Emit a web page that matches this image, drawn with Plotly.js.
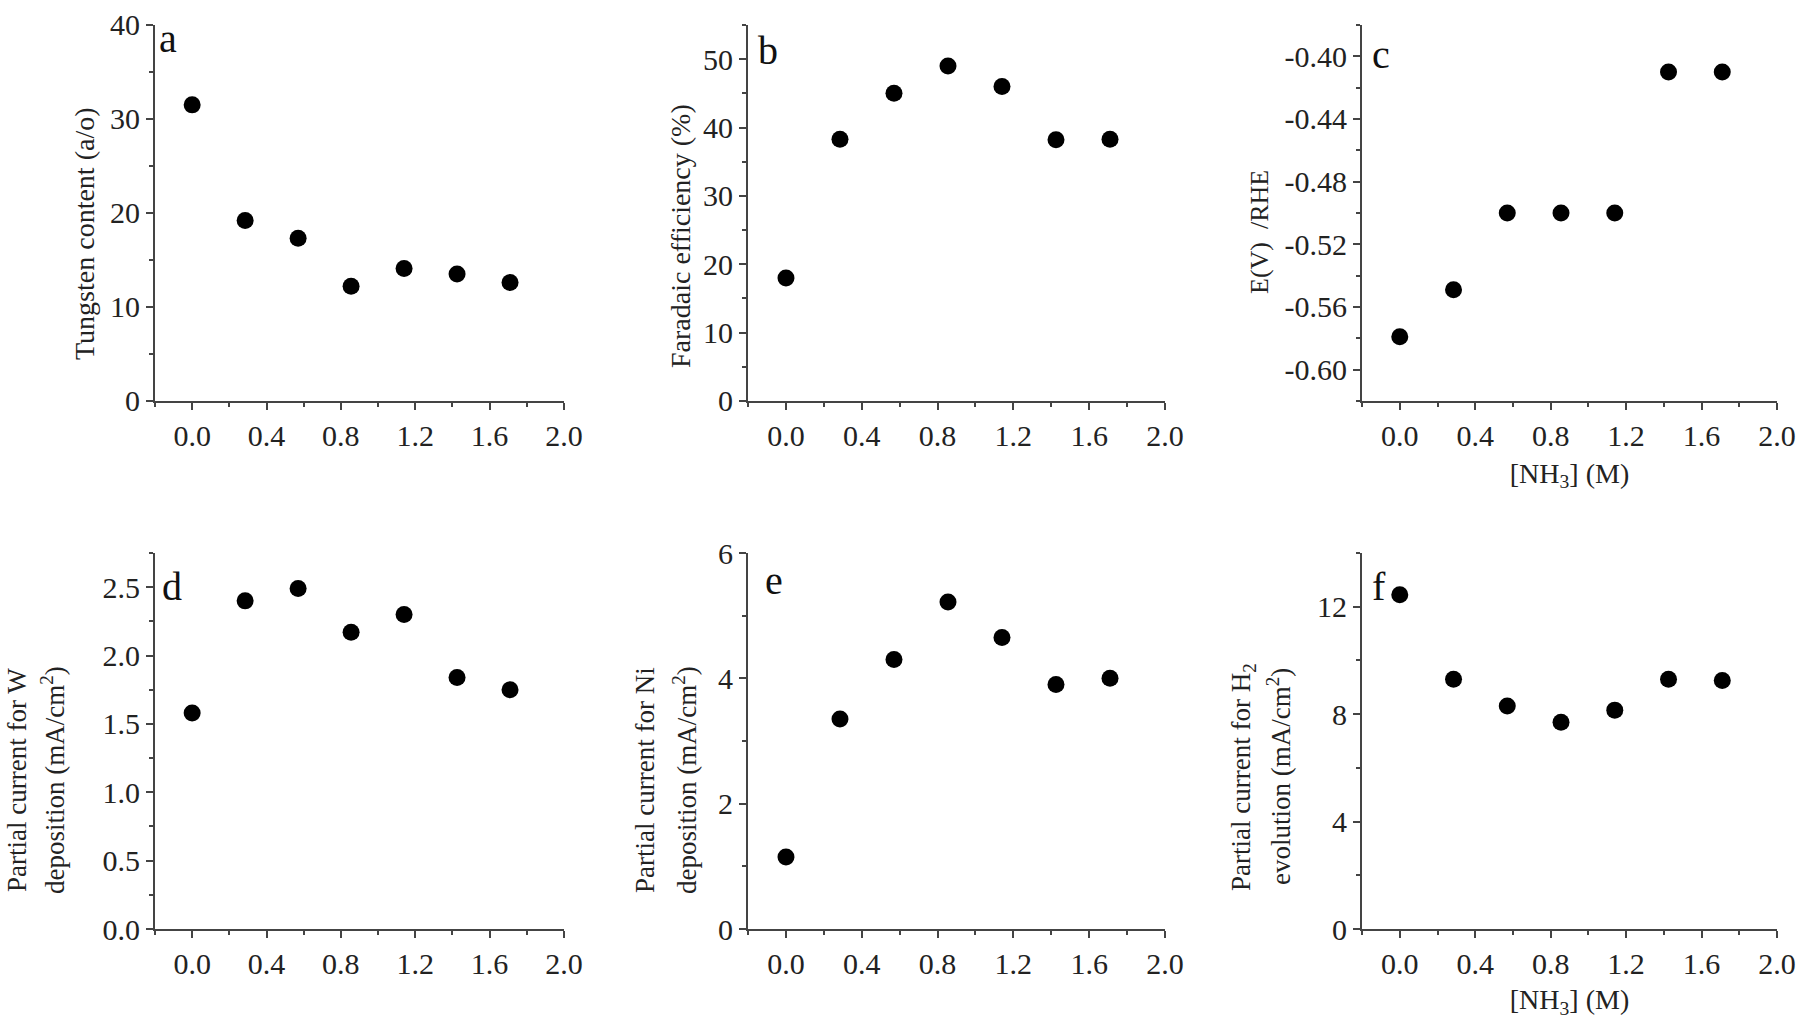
<!DOCTYPE html>
<html>
<head>
<meta charset="utf-8">
<script src="https://cdn.plot.ly/plotly-3.0.1.min.js"></script>
<style>
  html, body { margin: 0; padding: 0; background: #fff; }
  #myDiv { width: 1800px; height: 1019px; }
</style>
</head>
<body>
<div id="myDiv"></div>
<script>
// concentraciones de NH3 (M), iguales para los seis paneles
const nh3 = [0.0, 0.285, 0.57, 0.855, 1.14, 1.425, 1.71];

// valores
const tungsten = [31.5, 19.2, 17.3, 12.2, 14.1, 13.5, 12.6];
const faradaic = [18.0, 38.3, 45.0, 49.0, 46.0, 38.2, 38.3];
const potential = [-0.579, -0.549, -0.500, -0.500, -0.500, -0.410, -0.410];
const iW = [1.58, 2.40, 2.49, 2.17, 2.30, 1.84, 1.75];
const iNi = [1.15, 3.35, 4.30, 5.22, 4.65, 3.90, 4.00];
const iH2 = [12.45, 9.30, 8.30, 7.70, 8.15, 9.30, 9.25];

const panelLetters = ['a', 'b', 'c', 'd', 'e', 'f'];
// titulos del eje y, una entrada por linea
const yTitles = [
    ['Tungsten content (a/o)'],
    ['Faradaic efficiency (%)'],
    ['E(V)\u00a0\u00a0/RHE'],
    ['Partial current for W', 'deposition (mA/cm<sup>2</sup>)'],
    ['Partial current for Ni', 'deposition (mA/cm<sup>2</sup>)'],
    ['Partial current for H<sub>2</sub>', 'evolution (mA/cm<sup>2</sup>)']
];
const xTitle = '[NH<sub>3</sub>] (M)';

const series = [tungsten, faradaic, potential, iW, iNi, iH2];

// ejes y: rango, paso mayor, paso menor, decimales
const yRanges = [[0, 40], [0, 55], [-0.62, -0.38], [0, 2.75], [0, 6], [0, 14]];
const yDticks = [10, 10, 0.04, 0.5, 2, 4];
const yMinor = [5, 5, 0.02, 0.25, 1, 2];
const yDecimals = [0, 0, 2, 1, 0, 0];

// posiciones de los paneles (fraccion del papel)
const colDomains = [[0.0861, 0.3133], [0.4156, 0.6472], [0.7567, 0.9872]];
const rowDomains = [[0.6065, 0.9755], [0.0883, 0.4573]];

// posicion de los titulos y (px): x de cada linea, y del centro
const titleX = [[84], [680], [1259], [17, 53], [645, 685], [1243, 1279]];
const titleY = [234, 236, 232, 780, 780, 777];
const titleSize = [28, 28, 26, 27, 27, 27];

// desplazamiento de las letras de cada panel
const letterX = [0.005, 0.02, 0.02, 0.012, 0.035, 0.02];
const letterY = [1.03, 0.996, 0.986, 0.975, 0.991, 0.975];

const fontFam = '"Liberation Serif", "Times New Roman", serif';
const axisColor = '#444';
const W = 1800, H = 1019;

// genera valores de marca y texto con guion normal (no signo menos unicode)
function ticksFor(range, dtick, dec) {
    let vals = [], txt = [];
    let start = Math.ceil(range[0] / dtick - 1e-9);
    let end = Math.floor(range[1] / dtick + 1e-9);
    for (let k = start; k <= end; k++) {
        let v = +(k * dtick).toFixed(6);
        vals.push(v);
        txt.push(v.toFixed(dec));
    }
    return {vals: vals, txt: txt};
}

let traces = [];
let layout = {
    width: W,
    height: H,
    margin: {l: 0, r: 0, t: 0, b: 0},
    paper_bgcolor: '#fff',
    plot_bgcolor: '#fff',
    showlegend: false,
    font: {family: fontFam, color: '#222'},
    annotations: []
};

for (let i = 0; i < 6; i++) {
    let n = i + 1;
    let xa = n === 1 ? 'x' : 'x' + n;
    let ya = n === 1 ? 'y' : 'y' + n;
    let col = i % 3;
    let row = Math.floor(i / 3);

    traces.push({
        x: nh3,
        y: series[i],
        xaxis: xa,
        yaxis: ya,
        mode: 'markers',
        type: 'scatter',
        hoverinfo: 'none',
        marker: {color: '#000', size: 17}
    });

    layout['xaxis' + (n === 1 ? '' : n)] = {
        domain: colDomains[col],
        anchor: ya,
        range: [-0.2, 2.0],
        tickvals: [0, 0.4, 0.8, 1.2, 1.6, 2.0],
        ticktext: ['0.0', '0.4', '0.8', '1.2', '1.6', '2.0'],
        ticks: 'outside',
        ticklen: 7,
        tickwidth: 2,
        tickcolor: axisColor,
        minor: {tickvals: [-0.2, 0.2, 0.6, 1.0, 1.4, 1.8], ticks: 'outside', ticklen: 4, tickwidth: 2, tickcolor: axisColor},
        showline: true,
        linecolor: axisColor,
        linewidth: 2,
        showgrid: false,
        zeroline: false,
        fixedrange: true,
        tickfont: {family: fontFam, size: 30, color: '#222'},
        title: col === 2 ? {text: xTitle, font: {family: fontFam, size: 28, color: '#222'}, standoff: 12} : {text: ''}
    };

    let tk = ticksFor(yRanges[i], yDticks[i], yDecimals[i]);
    layout['yaxis' + (n === 1 ? '' : n)] = {
        domain: rowDomains[row],
        anchor: xa,
        range: yRanges[i],
        tickvals: tk.vals,
        ticktext: tk.txt,
        ticks: 'outside',
        ticklen: 7,
        tickwidth: 2,
        tickcolor: axisColor,
        minor: {dtick: yMinor[i], tick0: 0, ticks: 'outside', ticklen: 4, tickwidth: 2, tickcolor: axisColor},
        showline: true,
        linecolor: axisColor,
        linewidth: 2,
        showgrid: false,
        zeroline: false,
        fixedrange: true,
        tickfont: {family: fontFam, size: 30, color: '#222'}
    };

    // titulo del eje y (cada linea por separado)
    yTitles[i].forEach(function(line, j) {
        layout.annotations.push({
            text: line,
            xref: 'paper',
            yref: 'paper',
            x: titleX[i][j] / W,
            y: 1 - titleY[i] / H,
            xanchor: 'center',
            yanchor: 'middle',
            textangle: -90,
            showarrow: false,
            font: {family: fontFam, size: titleSize[i], color: '#222'}
        });
    });

    // letra del panel
    layout.annotations.push({
        text: panelLetters[i],
        xref: xa + ' domain',
        yref: ya + ' domain',
        x: letterX[i],
        y: letterY[i],
        xanchor: 'left',
        yanchor: 'top',
        showarrow: false,
        font: {family: fontFam, size: 40, color: '#111'}
    });
}

Plotly.newPlot('myDiv', traces, layout, {displayModeBar: false, staticPlot: true});
</script>
</body>
</html>
